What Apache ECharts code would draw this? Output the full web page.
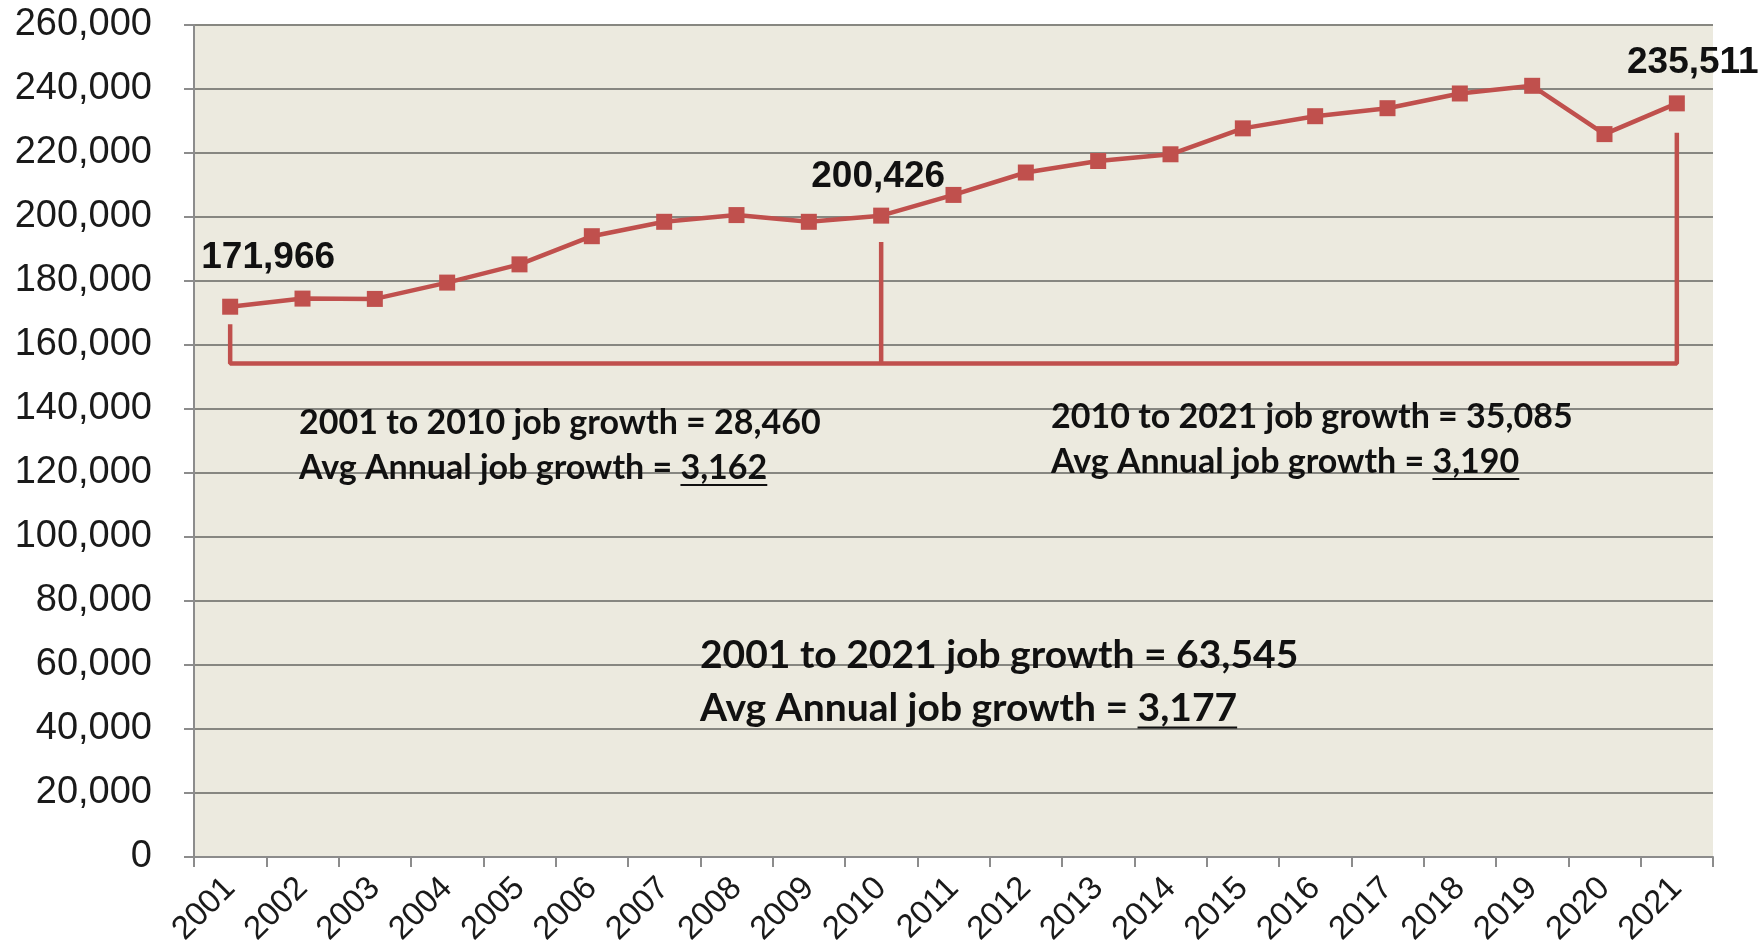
<!DOCTYPE html>
<html>
<head>
<meta charset="utf-8">
<script src="https://cdn.jsdelivr.net/npm/echarts@6/dist/echarts.min.js"></script>
<style>
html,body{margin:0;padding:0;background:#fff;}
#chart{width:1764px;height:952px;}
</style>
</head>
<body>
<div id="chart"></div>
<script>
// ---- data ----
const years = ['2001','2002','2003','2004','2005','2006','2007','2008','2009','2010','2011','2012','2013','2014','2015','2016','2017','2018','2019','2020','2021'];
const jobs = [171966, 174500, 174400, 179500, 185200, 194000, 198500, 200600, 198500, 200426, 206900, 213900, 217500, 219600, 227700, 231500, 234000, 238600, 241000, 225900, 235511];
const labeledYears = ['2001', '2010', '2021'];
const yMin = 0, yMax = 260000, yStep = 20000;
const bracketMain = [['2001', 166500], ['2001', 154200], ['2021', 154200], ['2021', 226300]];
const bracketMid = [['2010', 154200], ['2010', 192200]];
const noteA = ['2001 to 2010 job growth = 28,460', 'Avg Annual job growth = ', '3,162'];
const noteB = ['2010 to 2021 job growth = 35,085', 'Avg Annual job growth = ', '3,190'];
const noteC = ['2001 to 2021 job growth = 63,545', 'Avg Annual job growth = ', '3,177'];

// ---- helpers ----
const RED = '#C0504D';
const fmt = v => Math.round(v).toLocaleString('en-US');
const measureCtx = document.createElement('canvas').getContext('2d');
function textWidth(str, font) { measureCtx.font = font; return measureCtx.measureText(str).width; }

const labelOffsets = { '2001': [38, -17], '2010': [-3, -7], '2021': [16, -9] };
const seriesData = jobs.map((v, i) => {
  const y = years[i];
  if (labeledYears.indexOf(y) >= 0) {
    return { value: v, label: { show: true, position: 'top', offset: labelOffsets[y] } };
  }
  return v;
});

function noteGraphics(note, x, y1, y2, fs) {
  const family = 'Lato';
  const font = 'bold ' + fs + 'px ' + family;
  const preW = textWidth(note[1], font);
  const numW = textWidth(note[2], font);
  const st = { fill: '#111', fontSize: fs, fontWeight: 'bold', fontFamily: family, verticalAlign: 'middle', align: 'left' };
  const uy = y2 + fs * 0.5;
  return [
    { type: 'text', left: x, top: y1 - fs / 2, z: 50, style: Object.assign({ text: note[0] }, st) },
    { type: 'text', left: x, top: y2 - fs / 2, z: 50, style: Object.assign({ text: note[1] + note[2] }, st) },
    { type: 'line', z: 50, shape: { x1: x + preW, y1: uy, x2: x + preW + numW, y2: uy }, style: { stroke: '#111', lineWidth: 2 } }
  ];
}

const chart = echarts.init(document.getElementById('chart'));
const option = {
  backgroundColor: '#ffffff',
  animation: false,
  grid: { left: 194, right: 51, top: 25, bottom: 95, show: true, backgroundColor: '#ECEADF', borderWidth: 0 },
  xAxis: {
    type: 'category',
    data: years,
    boundaryGap: true,
    axisLine: { show: true, lineStyle: { color: '#8C8C8C', width: 2 } },
    axisTick: { show: true, length: 10, lineStyle: { color: '#8C8C8C', width: 2 } },
    axisLabel: { rotate: 45, color: '#1a1a1a', fontSize: 33, fontFamily: 'Liberation Sans, Arial', margin: 26, interval: 0 },
    splitLine: { show: false }
  },
  yAxis: {
    type: 'value',
    min: yMin, max: yMax, interval: yStep,
    axisLine: { show: true, lineStyle: { color: '#8C8C8C', width: 2 } },
    axisTick: { show: true, length: 10, lineStyle: { color: '#8C8C8C', width: 2 } },
    axisLabel: { color: '#1a1a1a', fontSize: 38, fontFamily: 'Liberation Sans, Arial', margin: 42, formatter: v => fmt(v) },
    splitLine: { show: true, lineStyle: { color: '#878781', width: 2 } }
  },
  series: [
    {
      type: 'line',
      data: seriesData,
      symbol: 'rect',
      symbolSize: 16,
      itemStyle: { color: RED },
      lineStyle: { color: RED, width: 4.5 },
      z: 10,
      label: { show: false, color: '#111', fontSize: 37, fontWeight: 'bold', fontFamily: 'Liberation Sans, Arial', formatter: p => fmt(p.value) }
    },
    {
      type: 'line',
      data: bracketMain,
      symbol: 'none',
      lineStyle: { color: RED, width: 4.5 },
      z: 5,
      silent: true
    },
    {
      type: 'line',
      data: bracketMid,
      symbol: 'none',
      lineStyle: { color: RED, width: 4.5 },
      z: 5,
      silent: true
    }
  ],
  graphic: [].concat(
    noteGraphics(noteA, 299, 423, 468, 34),
    noteGraphics(noteB, 1051, 417, 462, 34),
    noteGraphics(noteC, 700, 655, 708, 39)
  )
};
chart.setOption(option);
</script>
</body>
</html>
